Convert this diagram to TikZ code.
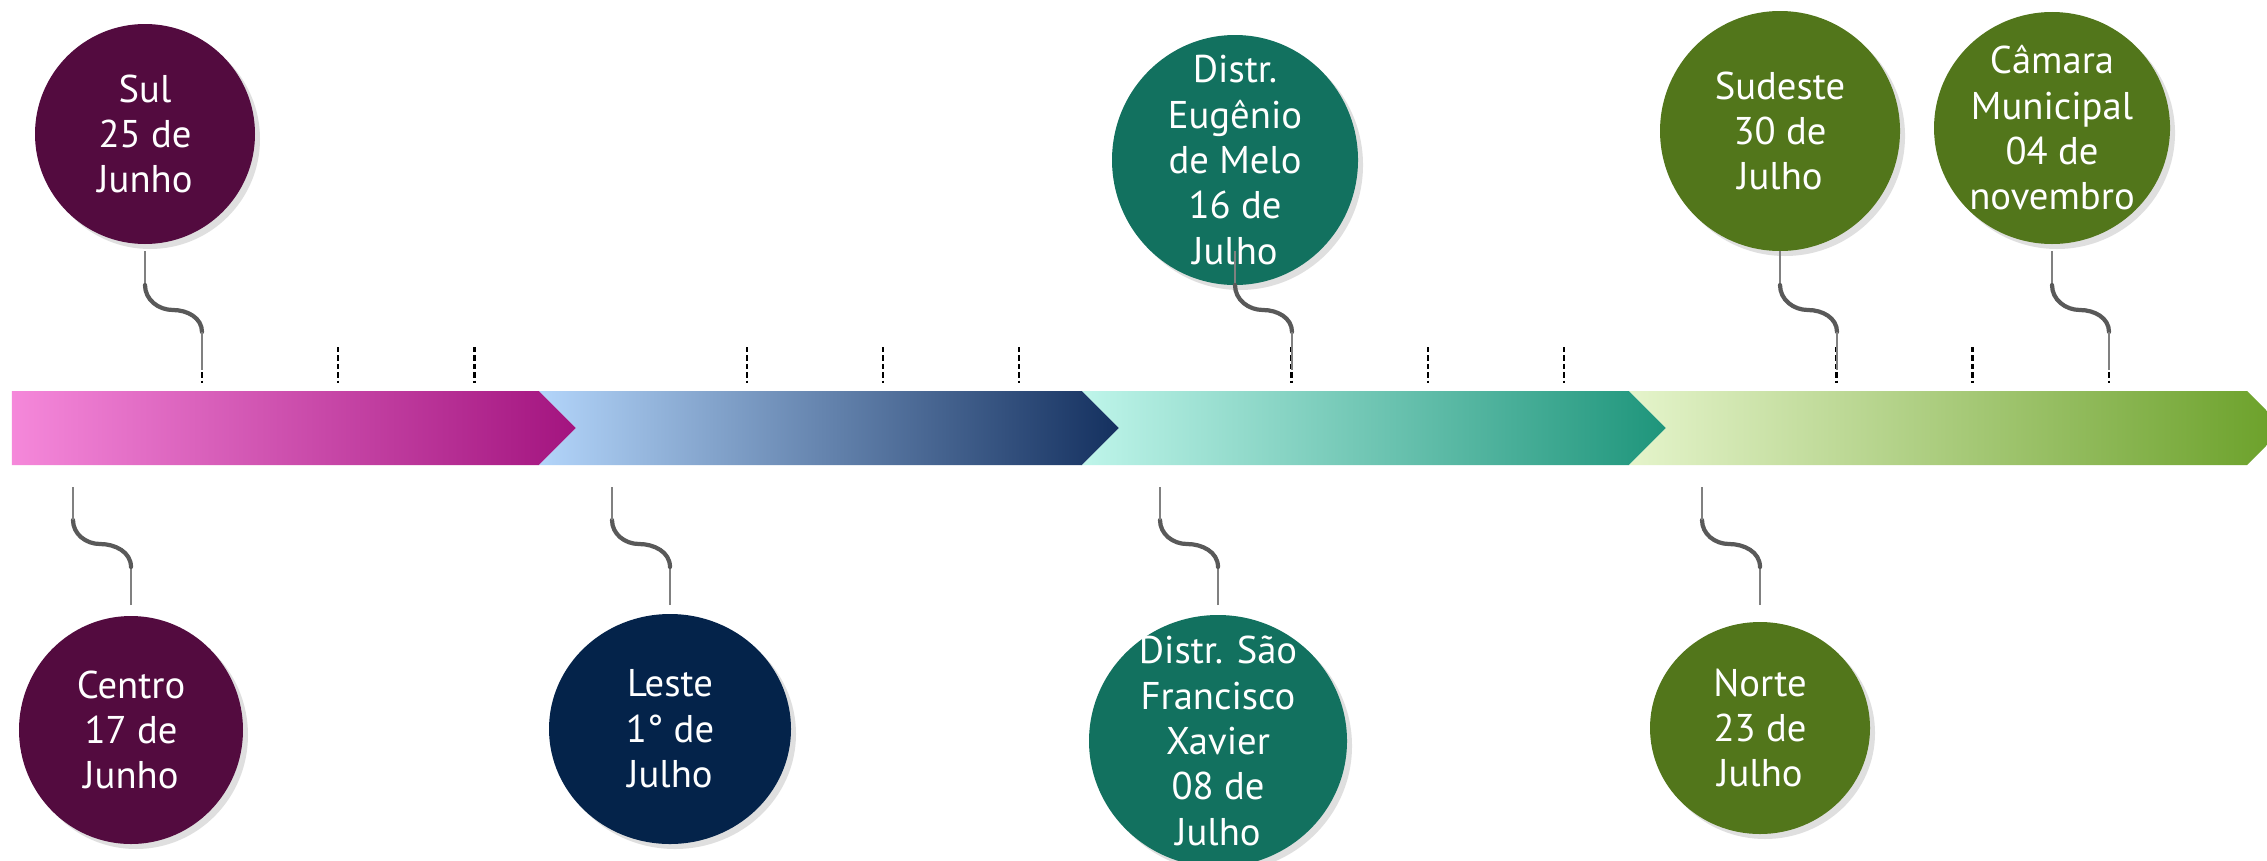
\documentclass[tikz,border=0pt]{standalone}
\usepackage{fontspec}
\setmainfont{PT Sans}
\usetikzlibrary{shapes.geometric,shadows}

\definecolor{evPlum}{HTML}{530B3F}
\definecolor{evNavy}{HTML}{04234A}
\definecolor{evTeal}{HTML}{12715F}
\definecolor{evOlive}{HTML}{52761B}
\definecolor{bandPinkA}{HTML}{F588DA}
\definecolor{bandPinkB}{HTML}{A3147F}
\definecolor{bandBlueA}{HTML}{B3D5FA}
\definecolor{bandBlueB}{HTML}{14305F}
\definecolor{bandMintA}{HTML}{BFF5EA}
\definecolor{bandMintB}{HTML}{1E957B}
\definecolor{bandLimeA}{HTML}{E5F4CB}
\definecolor{bandLimeB}{HTML}{6AA028}

\tikzset{
  event/.style={ellipse, fill=#1, text=white, align=center, inner sep=-20pt,
    font=\fontsize{11pt}{12.9pt}\selectfont,
    drop shadow={shadow xshift=0.5mm, shadow yshift=-0.5mm, opacity=0.25}},
  thread/.style={black!50, line width=0.4pt},
  twist/.style={black!65, line width=1.2pt, line cap=round},
  tickmark/.style={black, line width=0.7pt, dash pattern=on 1.5pt off 0.9pt}
}

\begin{document}
\begin{tikzpicture}
\useasboundingbox (0,0) rectangle (22.67,-8.60);
\fill[white] (0,0) rectangle (22.67,-8.60);

% Timeline band
\foreach \a/\b/\n/\ca/\cb in {0.12/5.39/0/bandPinkA/bandPinkB,
                              5.39/10.82/0.37/bandBlueA/bandBlueB,
                              10.82/16.29/0.37/bandMintA/bandMintB,
                              16.29/22.47/0.37/bandLimeA/bandLimeB} {
    \shade[left color=\ca, right color=\cb] (\a,-3.91) -- (\b,-3.91) -- (\b+0.37,-4.28)
        -- (\b,-4.65) -- (\a,-4.65) -- (\a+\n,-4.28) -- cycle;
}

% Ticks
\foreach \k in {0,1,2,4,5,6,8,9,10,12,13,14} {
    \draw[tickmark] (2.02+1.362*\k,-3.47) -- ++(0,-0.36);
}

% Events above
\node[event=evPlum, minimum width=2.20cm, minimum height=2.20cm] (sul) at (1.45,-1.34) {Sul\\25 de\\Junho};
\node[event=evTeal, minimum width=2.46cm, minimum height=2.50cm] (eug) at (12.35,-1.60) {Distr.\\Eugênio\\de Melo\\16 de\\Julho};
\node[event=evOlive, minimum width=2.40cm, minimum height=2.40cm] (sud) at (17.80,-1.31) {Sudeste\\30 de\\Julho};
\node[event=evOlive, minimum width=2.36cm, minimum height=2.32cm] (cam) at (20.52,-1.28) {Câmara\\Municipal\\04 de\\novembro};

% Events below
\node[event=evPlum, minimum width=2.24cm, minimum height=2.28cm] (cen) at (1.31,-7.30) {Centro\\17 de\\Junho};
\node[event=evNavy, minimum width=2.42cm, minimum height=2.30cm] (les) at (6.70,-7.29) {Leste\\1° de\\Julho};
\node[event=evTeal, minimum width=2.58cm, minimum height=2.52cm] (sao) at (12.18,-7.41) {Distr. São\\Francisco\\Xavier\\08 de\\Julho};
\node[event=evOlive, minimum width=2.20cm, minimum height=2.12cm] (nor) at (17.60,-7.28) {Norte\\23 de\\Julho};

% Hangers
\foreach \n in {sul,eug,sud,cam} {
    \draw[thread] (\n |- 0,-2.51) -- ++(0,-0.34) coordinate (\n-a);
    \draw[twist] (\n-a) to[out=-90,in=180] ++(0.28,-0.25) to[out=0,in=90] ++(0.29,-0.22) coordinate (\n-b);
    \draw[thread] (\n-b) -- ++(0,-0.38);
}
\foreach \n in {cen,les,sao,nor} {
    \draw[thread] (\n |- 0,-6.05) -- ++(0,0.38) coordinate (\n-a);
    \draw[twist] (\n-a) to[out=90,in=0] ++(-0.31,0.23) to[out=180,in=-90] ++(-0.27,0.24) coordinate (\n-b);
    \draw[thread] (\n-b) -- ++(0,0.33);
}
\end{tikzpicture}
\end{document}
